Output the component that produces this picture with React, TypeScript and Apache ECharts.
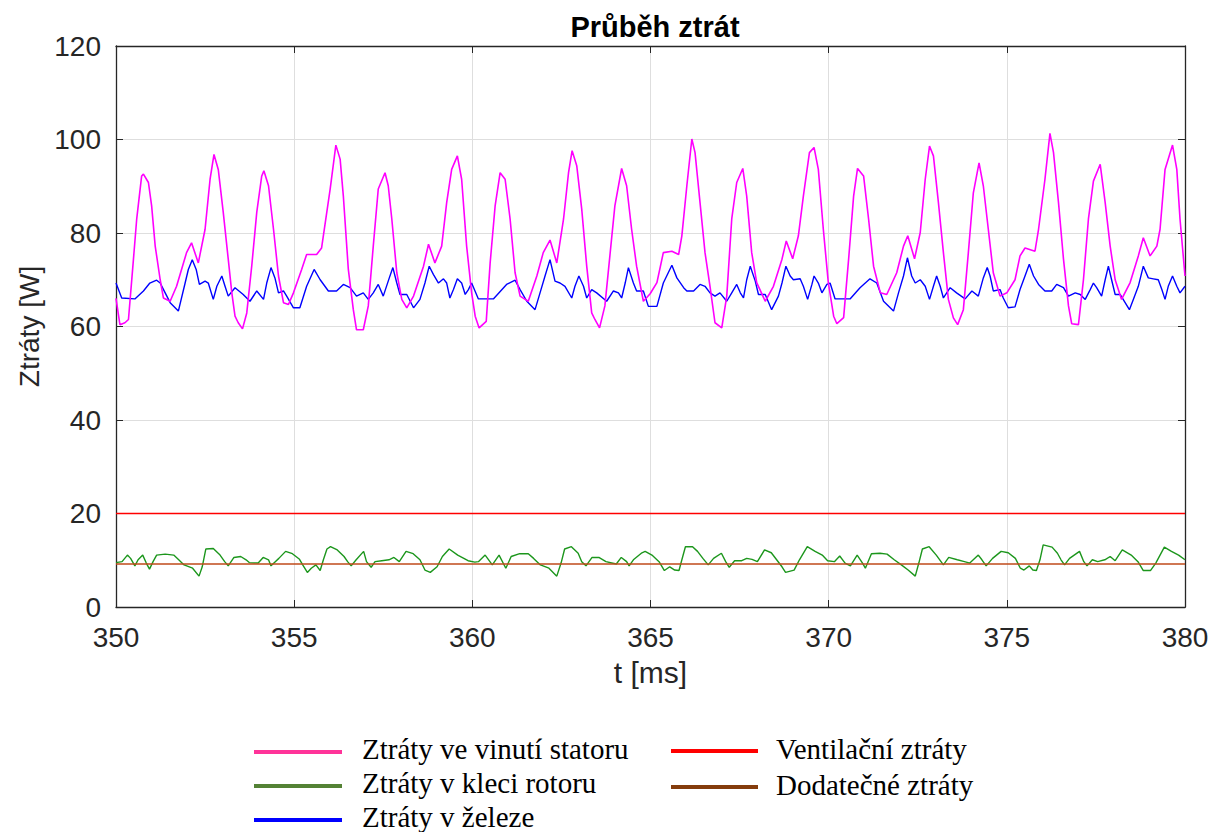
import React, { useEffect, useRef } from "react";
import * as echarts from "echarts";

const chartTitle = "Průběh ztrát";
const xAxisName = "t [ms]";
const yAxisName = "Ztráty [W]";
const seriesNames = [
  "Ztráty ve vinutí statoru",
  "Ztráty v kleci rotoru",
  "Ztráty v železe",
  "Ventilační ztráty",
  "Dodatečné ztráty",
];

const statorLoss: [number, number][] = [
  [350.0,66],[350.11,60.4],[350.25,60.8],[350.35,61.5],[350.49,74.4],[350.58,82.9],[350.72,92.2],[350.77,92.6],[350.91,90.8],[351.0,85.8],[351.1,77.2],[351.24,70],[351.33,66.1],[351.52,65.4],[351.7,68.6],[351.98,75.8],[352.12,77.9],[352.31,73.6],[352.5,80.8],[352.64,91.5],[352.75,96.8],[352.87,93.6],[353.01,84.4],[353.15,74.4],[353.25,67.2],[353.34,62.2],[353.43,60.8],[353.55,59.5],[353.67,62.9],[353.81,73],[353.95,84.4],[354.09,92.2],[354.15,93.3],[354.28,90.1],[354.42,80.8],[354.56,70.8],[354.7,65.1],[354.84,64.7],[354.98,67.2],[355.21,72.2],[355.35,75.4],[355.63,75.4],[355.77,76.8],[356.01,89.4],[356.17,98.8],[356.29,95.8],[356.38,87.9],[356.52,72.2],[356.66,63.6],[356.75,59.3],[356.94,59.3],[357.08,64.4],[357.22,77.2],[357.36,89.4],[357.55,92.9],[357.64,90.1],[357.74,83],[357.88,71.5],[358.02,65.8],[358.16,64],[358.35,66.5],[358.63,72.9],[358.77,77.6],[358.95,73.6],[359.14,77.2],[359.28,86.5],[359.42,93.6],[359.58,96.5],[359.7,91.5],[359.84,77.2],[359.98,67.2],[360.08,62.2],[360.19,59.7],[360.39,61.1],[360.5,73.6],[360.64,85.8],[360.78,92.9],[360.92,91.5],[361.06,83],[361.2,71.5],[361.34,66.5],[361.57,65.4],[361.81,70.8],[361.99,75.8],[362.18,78.5],[362.37,73.6],[362.56,83],[362.7,92.9],[362.8,97.6],[362.93,94.4],[363.07,85.1],[363.21,72.9],[363.35,62.9],[363.44,61.5],[363.57,59.7],[363.72,64.4],[363.86,75.1],[364.0,85.8],[364.19,93.8],[364.33,90.1],[364.47,80.8],[364.61,72.9],[364.8,65.4],[364.99,67],[365.18,69.4],[365.36,75.8],[365.6,76.1],[365.79,75.4],[365.88,79.4],[366.02,90.1],[366.16,100.1],[366.25,97.2],[366.39,86.5],[366.53,75.8],[366.67,68.6],[366.81,60.8],[367.0,59.7],[367.14,66.5],[367.28,83],[367.42,90.8],[367.59,93.8],[367.7,87.9],[367.84,75.8],[367.98,69.4],[368.22,65.4],[368.45,68.6],[368.69,74.4],[368.81,78.3],[368.99,74.5],[369.15,79.4],[369.29,87.9],[369.46,97.2],[369.59,98.3],[369.71,93.6],[369.85,80.8],[369.99,69.4],[370.14,62.2],[370.23,60.6],[370.42,61.9],[370.56,74.4],[370.7,87.9],[370.81,93.8],[370.98,92.2],[371.12,83],[371.26,72.9],[371.45,67.2],[371.63,66.85],[371.91,71.5],[372.1,77.2],[372.22,79.4],[372.41,74.5],[372.57,80.1],[372.71,91.5],[372.83,98.6],[372.94,96.5],[373.08,86.5],[373.22,75.8],[373.36,65.8],[373.5,61.85],[373.62,60.4],[373.78,63.6],[373.92,75.8],[374.06,88.6],[374.22,95],[374.34,90.1],[374.48,80.8],[374.62,71.5],[374.81,66.5],[375.0,67.2],[375.23,70],[375.37,75.1],[375.51,76.8],[375.79,76.1],[375.89,80.8],[376.07,91.5],[376.21,101.3],[376.31,97.2],[376.45,86.5],[376.59,74.4],[376.73,64.4],[376.82,60.6],[377.01,60.4],[377.15,70],[377.29,83],[377.43,91.1],[377.62,94.7],[377.76,86.5],[377.9,77.2],[378.04,70],[378.22,65.8],[378.46,69.4],[378.69,75.1],[378.83,79],[379.02,75.1],[379.21,77.2],[379.3,80.8],[379.44,93.6],[379.65,98.8],[379.77,93.6],[379.86,83],[380.0,70.8],
];

const ironLoss: [number, number][] = [
  [350.0,69.3],[350.16,66.1],[350.53,65.9],[350.77,67.6],[350.95,69.3],[351.14,69.9],[351.24,69.3],[351.38,67.2],[351.52,65.1],[351.75,63.3],[351.94,69.3],[352.03,72.2],[352.14,74.3],[352.25,72.2],[352.34,69],[352.5,69.7],[352.59,69.3],[352.73,65.8],[352.83,68.6],[352.97,70.8],[353.06,68.6],[353.15,66.5],[353.34,68.3],[353.57,66.85],[353.76,65.4],[353.95,67.6],[354.14,65.8],[354.23,69.3],[354.35,72.6],[354.46,70.4],[354.56,67.2],[354.7,67.6],[354.79,66.5],[354.98,64],[355.16,64],[355.35,68.6],[355.56,72.2],[355.73,70],[355.96,67.6],[356.19,67.6],[356.38,69],[356.57,68.3],[356.75,66.5],[356.94,67.2],[357.08,65.8],[357.22,67.2],[357.36,69],[357.5,66.5],[357.67,70.4],[357.77,72.6],[357.88,69.3],[357.97,66.85],[358.16,66.85],[358.35,64],[358.53,65.8],[358.67,69.3],[358.79,72.9],[358.91,71.1],[359.05,69.3],[359.19,70.2],[359.28,69.3],[359.37,66.1],[359.47,67.9],[359.58,70.2],[359.7,69.3],[359.8,66.85],[359.89,67.9],[359.98,69.3],[360.17,65.9],[360.59,65.9],[360.96,69],[361.2,69.9],[361.34,67.9],[361.53,65.4],[361.76,63.6],[361.9,67.2],[362.04,70.8],[362.18,74.3],[362.32,69.7],[362.46,69.3],[362.6,68.6],[362.79,66.1],[362.88,68.6],[362.99,70.8],[363.12,68.6],[363.21,66.1],[363.35,67.9],[363.49,67.2],[363.77,65.4],[363.96,67.6],[364.1,67.2],[364.19,66.1],[364.29,69.3],[364.38,72.6],[364.52,69.3],[364.61,67.6],[364.8,67.6],[364.94,64.3],[365.18,64.3],[365.36,69.3],[365.6,73.1],[365.74,70.4],[365.93,68.3],[366.02,67.6],[366.21,67.6],[366.39,69],[366.53,68.6],[366.67,67.2],[366.81,66.5],[366.95,67.2],[367.14,65.4],[367.28,67.2],[367.42,69],[367.52,67.2],[367.61,66.1],[367.7,70],[367.8,72.9],[367.94,69.7],[368.03,66.85],[368.22,66.85],[368.4,63.6],[368.59,66.5],[368.69,69.3],[368.8,72.9],[368.92,70.8],[369.01,70],[369.2,70.2],[369.29,68.6],[369.41,65.8],[369.53,69],[369.59,70.8],[369.71,69.3],[369.81,67.2],[369.95,69],[370.04,69.3],[370.18,65.9],[370.6,65.9],[370.88,68.3],[371.16,70.2],[371.35,69.3],[371.54,65.4],[371.82,63.3],[371.96,67.2],[372.1,70.8],[372.21,74.7],[372.33,70.8],[372.43,69.3],[372.57,70],[372.71,68.6],[372.83,65.8],[372.94,68.6],[373.03,70.8],[373.13,68.6],[373.22,66.1],[373.41,68.3],[373.59,67.2],[373.83,65.9],[374.02,67.6],[374.2,66.5],[374.34,70.4],[374.45,72.6],[374.53,70.8],[374.62,67.6],[374.81,67.9],[374.9,66.1],[375.04,64],[375.23,64.2],[375.37,67.9],[375.51,70.8],[375.63,73.3],[375.75,70.8],[375.89,69],[376.07,67.6],[376.26,67.6],[376.4,69],[376.59,68.3],[376.73,66.5],[376.92,67.2],[377.06,66.85],[377.2,65.8],[377.34,67.9],[377.43,69.3],[377.52,68.3],[377.66,66.5],[377.76,70],[377.85,72.9],[377.94,70],[378.04,66.85],[378.18,66.85],[378.32,65.1],[378.44,63.6],[378.55,65.8],[378.69,68.6],[378.83,72.9],[378.97,70.4],[379.11,70.2],[379.25,70],[379.35,67.9],[379.44,65.8],[379.53,68.6],[379.65,70.8],[379.77,68.6],[379.86,67.2],[380.0,68.6],
];

const rotorLoss: [number, number][] = [
  [350.0,9.5],[350.17,9.7],[350.32,11.1],[350.41,10.4],[350.53,8.8],[350.62,10.1],[350.75,11.1],[350.85,9.4],[350.94,8.1],[351.04,9.7],[351.14,11.1],[351.38,11.3],[351.62,11.1],[351.76,10.1],[351.91,9.0],[352.15,8.3],[352.33,6.6],[352.42,8.6],[352.52,12.4],[352.73,12.5],[352.92,11.1],[353.05,9.7],[353.15,8.8],[353.31,10.6],[353.5,10.8],[353.65,10.1],[353.74,9.5],[353.99,9.4],[354.13,10.6],[354.28,10.1],[354.35,8.8],[354.47,9.7],[354.57,10.4],[354.76,11.9],[354.95,11.4],[355.15,10.2],[355.24,9.0],[355.37,7.4],[355.48,8.3],[355.61,9.0],[355.73,7.8],[355.82,10.1],[355.92,12.4],[356.02,12.9],[356.21,12.2],[356.4,10.8],[356.5,9.7],[356.6,8.8],[356.74,10.1],[356.95,11.9],[357.03,9.7],[357.16,8.5],[357.27,9.7],[357.46,9.9],[357.66,10.1],[357.8,10.6],[357.95,9.7],[358.14,11.9],[358.34,11.4],[358.53,10.1],[358.67,7.9],[358.82,7.4],[359.01,8.6],[359.16,10.8],[359.35,12.4],[359.59,11.1],[359.88,9.9],[360.07,9.6],[360.17,9.7],[360.36,11.1],[360.56,9.0],[360.75,11.1],[360.94,8.3],[361.09,10.8],[361.33,11.4],[361.57,11.4],[361.72,10.4],[361.91,9.0],[362.15,8.3],[362.37,6.6],[362.49,9.4],[362.59,12.4],[362.78,12.9],[362.97,11.5],[363.07,9.7],[363.19,8.8],[363.36,10.6],[363.55,10.6],[363.75,9.7],[364.04,9.2],[364.18,10.6],[364.33,9.7],[364.4,8.8],[364.52,10.1],[364.76,11.6],[364.85,11.9],[365.04,11.1],[365.24,9.7],[365.39,7.8],[365.54,8.6],[365.68,7.9],[365.8,7.8],[365.88,10.1],[365.98,12.9],[366.18,12.9],[366.32,11.9],[366.47,10.4],[366.62,9.0],[366.77,10.4],[366.99,11.5],[367.11,9.7],[367.21,8.5],[367.36,9.9],[367.56,9.9],[367.7,10.4],[367.85,10.2],[368.0,9.7],[368.2,12.2],[368.39,11.6],[368.54,10.1],[368.69,8.6],[368.79,7.4],[369.03,7.9],[369.18,10.1],[369.4,12.9],[369.62,11.9],[369.82,11.1],[369.97,9.9],[370.16,9.7],[370.31,10.9],[370.46,9.4],[370.61,8.8],[370.8,11.1],[370.95,9.4],[371.03,8.3],[371.2,11.4],[371.44,11.5],[371.64,11.3],[371.84,10.1],[372.04,9.0],[372.23,7.9],[372.43,6.6],[372.53,9.4],[372.63,12.4],[372.82,12.9],[373.02,11.1],[373.22,9.0],[373.37,10.6],[373.61,10.1],[373.81,9.7],[373.96,9.4],[374.2,11.1],[374.3,10.1],[374.42,8.8],[374.6,10.4],[374.84,11.9],[375.04,11.6],[375.24,10.4],[375.38,8.3],[375.48,7.9],[375.63,8.8],[375.73,7.9],[375.83,7.8],[375.93,10.1],[376.02,13.3],[376.27,12.8],[376.42,11.5],[376.52,10.1],[376.62,9.0],[376.76,10.4],[377.04,11.9],[377.16,9.7],[377.25,8.8],[377.4,10.1],[377.55,9.7],[377.75,10.1],[377.9,10.8],[378.04,9.9],[378.24,12.2],[378.49,11.1],[378.68,9.7],[378.83,7.8],[379.03,7.8],[379.18,9.4],[379.42,12.8],[379.62,11.9],[379.82,11.1],[380.0,10.1],
];

const ventilationLoss: [number, number][] = [[350, 20], [380, 20]];
const additionalLoss: [number, number][] = [[350, 9.2], [380, 9.2]];

const xTicks = { min: 350, max: 380, interval: 5 };
const yTicks = { min: 0, max: 120, interval: 20 };

const seriesColors = ["#ff00ff", "#1c961c", "#0000ff", "#ff0000", "#bf4a1a"];
const legendColors = ["#ff3399", "#548235", "#0000ff", "#ff0000", "#843c0c"];

export default function App() {
  const ref = useRef<HTMLDivElement>(null);
  useEffect(() => {
    if (!ref.current) return;
    const chart = echarts.init(ref.current, null, { renderer: "svg" });
    const axisColor = "#262626";
    const font = "Liberation Sans, Arial, Helvetica, sans-serif";
    const serif = "Liberation Serif, Times New Roman, serif";

    const legendPos = [
      { x1: 254, x2: 342, y: 752, tx: 362, ty: 749 },
      { x1: 254, x2: 342, y: 786, tx: 362, ty: 783 },
      { x1: 254, x2: 342, y: 820, tx: 362, ty: 817 },
      { x1: 671, x2: 758, y: 751, tx: 776, ty: 749 },
      { x1: 671, x2: 758, y: 787, tx: 776, ty: 785 },
    ];
    const graphics: any[] = [];
    legendPos.forEach((p, i) => {
      graphics.push({
        type: "line",
        shape: { x1: p.x1, y1: p.y, x2: p.x2, y2: p.y },
        style: { stroke: legendColors[i], lineWidth: 4 },
      });
      graphics.push({
        type: "text",
        x: p.tx,
        y: p.ty,
        style: {
          text: seriesNames[i],
          fill: "#000",
          font: `29px ${serif}`,
          textVerticalAlign: "middle",
          verticalAlign: "middle",
        },
      });
    });

    const lineSeries = (name: string, data: [number, number][], color: string, width: number) => ({
      name,
      type: "line",
      data,
      showSymbol: false,
      symbol: "none",
      lineStyle: { color, width },
      itemStyle: { color },
      z: 3,
    });

    chart.setOption({
      animation: false,
      backgroundColor: "#ffffff",
      title: {
        text: chartTitle,
        left: 650,
        top: 7,
        textAlign: "center",
        textStyle: { fontSize: 29, fontWeight: "bold", color: "#000", fontFamily: font },
      },
      grid: { left: 116, right: 41, top: 46, bottom: 225, containLabel: false },
      xAxis: [
        {
          type: "value",
          min: xTicks.min,
          max: xTicks.max,
          interval: xTicks.interval,
          name: xAxisName,
          nameLocation: "middle",
          nameGap: 50,
          nameTextStyle: { fontSize: 30, color: axisColor, fontFamily: font },
          axisLine: { show: true, onZero: false, lineStyle: { color: axisColor, width: 1.3 } },
          axisTick: { show: true, inside: true, length: 7, lineStyle: { color: axisColor } },
          axisLabel: { fontSize: 28, color: axisColor, fontFamily: font, margin: 16 },
          splitLine: { show: true, lineStyle: { color: "#dedede", width: 1 } },
        },
        {
          type: "value",
          position: "top",
          min: xTicks.min,
          max: xTicks.max,
          interval: xTicks.interval,
          axisLine: { show: true, onZero: false, lineStyle: { color: axisColor, width: 1.3 } },
          axisTick: { show: true, inside: true, length: 7, lineStyle: { color: axisColor } },
          axisLabel: { show: false },
          splitLine: { show: false },
        },
      ],
      yAxis: [
        {
          type: "value",
          min: yTicks.min,
          max: yTicks.max,
          interval: yTicks.interval,
          name: yAxisName,
          nameLocation: "middle",
          nameGap: 73,
          nameTextStyle: { fontSize: 28, color: axisColor, fontFamily: font },
          axisLine: { show: true, onZero: false, lineStyle: { color: axisColor, width: 1.3 } },
          axisTick: { show: true, inside: true, length: 7, lineStyle: { color: axisColor } },
          axisLabel: { fontSize: 28, color: axisColor, fontFamily: font, margin: 15 },
          splitLine: { show: true, lineStyle: { color: "#dedede", width: 1 } },
        },
        {
          type: "value",
          position: "right",
          min: yTicks.min,
          max: yTicks.max,
          interval: yTicks.interval,
          axisLine: { show: true, onZero: false, lineStyle: { color: axisColor, width: 1.3 } },
          axisTick: { show: true, inside: true, length: 7, lineStyle: { color: axisColor } },
          axisLabel: { show: false },
          splitLine: { show: false },
        },
      ],
      series: [
        lineSeries(seriesNames[2], ironLoss, seriesColors[2], 1.4),
        lineSeries(seriesNames[0], statorLoss, seriesColors[0], 1.6),
        lineSeries(seriesNames[1], rotorLoss, seriesColors[1], 1.4),
        lineSeries(seriesNames[3], ventilationLoss, seriesColors[3], 1.6),
        lineSeries(seriesNames[4], additionalLoss, seriesColors[4], 1.4),
      ],
      graphic: graphics,
    });
    return () => chart.dispose();
  }, []);
  return (
    <div
      ref={ref}
      style={{ position: "fixed", left: 0, top: 0, width: 1226, height: 832, background: "#fff" }}
    />
  );
}
